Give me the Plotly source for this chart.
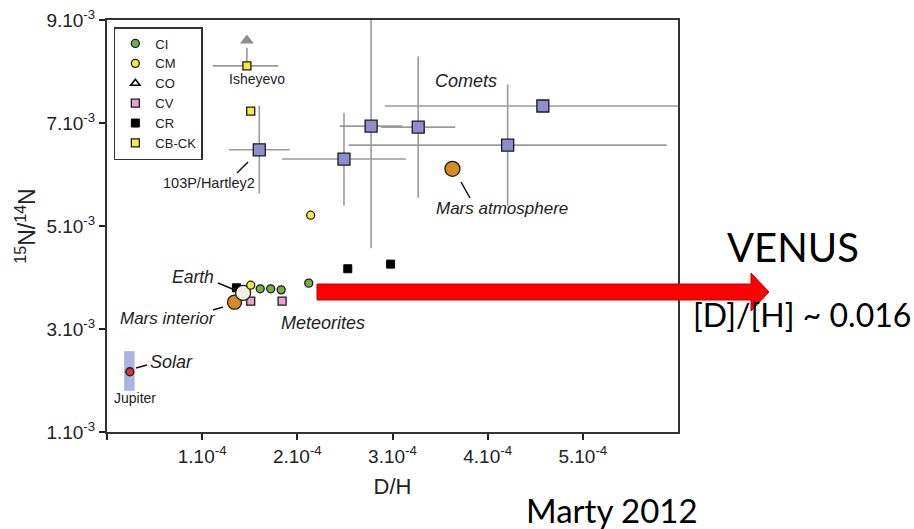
import plotly.graph_objects as go

# ---------------- data ----------------
ci_dh = [1.61e-4, 1.72e-4, 1.83e-4, 2.12e-4]
ci_n = [3.78e-3, 3.78e-3, 3.76e-3, 3.89e-3]

cm_dh = [1.51e-4, 2.14e-4]
cm_n = [3.85e-3, 5.21e-3]

co_dh = [1.41e-4]
co_n = [3.72e-3]

cv_dh = [1.51e-4, 1.84e-4]
cv_n = [3.54e-3, 3.54e-3]

cr_dh = [1.36e-4, 2.53e-4, 2.98e-4]
cr_n = [3.80e-3, 4.17e-3, 4.26e-3]

cbck_dh = [1.47e-4, 1.51e-4]
cbck_n = [8.11e-3, 7.23e-3]
cbck_dh_err_minus = [0.36e-4, 0.0]
cbck_dh_err_plus = [0.33e-4, 0.0]
cbck_n_err_plus = [0.35e-3, 0.0]
isheyevo_limit_n = 8.60e-3

comet_names = ["103P/Hartley2", "comet 2", "comet 3", "comet 4", "comet 5", "comet 6"]
comet_dh = [1.60e-4, 2.49e-4, 2.775e-4, 3.27e-4, 4.21e-4, 4.58e-4]
comet_n = [6.48e-3, 6.30e-3, 6.94e-3, 6.92e-3, 6.57e-3, 7.33e-3]
comet_dh_err = [0.32e-4, 0.65e-4, 0.33e-4, 0.39e-4, 1.67e-4, 1.66e-4]
comet_n_err = [0.85e-3, 0.90e-3, 2.37e-3, 1.37e-3, 1.18e-3, 0.0]

earth_dh, earth_n = [1.43e-4], [3.70e-3]
mars_int_dh, mars_int_n = [1.34e-4], [3.52e-3]
mars_atm_dh, mars_atm_n = [3.63e-4], [6.11e-3]
solar_dh, solar_n = [0.24e-4], [2.17e-3]
jupiter_dh = [0.18e-4, 0.29e-4]
jupiter_n = [1.80e-3, 2.57e-3]

x_tickvals = [0, 1e-4, 2e-4, 3e-4, 4e-4, 5e-4]
x_ticktext = ["", "1.10<sup>-4</sup>", "2.10<sup>-4</sup>", "3.10<sup>-4</sup>",
              "4.10<sup>-4</sup>", "5.10<sup>-4</sup>"]
y_tickvals = [1e-3, 3e-3, 5e-3, 7e-3, 9e-3]
y_ticktext = ["1.10<sup>-3</sup>", "3.10<sup>-3</sup>", "5.10<sup>-3</sup>",
              "7.10<sup>-3</sup>", "9.10<sup>-3</sup>"]

# ---------------- layout geometry ----------------
W, H = 914, 529
L, R, T, B = 107, 236, 20, 97
PW, PH = W - L - R, H - T - B
X0, X1 = 0.0, 6e-4
Y0, Y1 = 1e-3, 9e-3


def dx(px):
    return X0 + (px - L) / PW * (X1 - X0)


def dy(py):
    return Y1 - (py - T) / PH * (Y1 - Y0)


def pxp(px):
    return (px - L) / PW


def pyp(py):
    return (H - B - py) / PH


FONT = "Liberation Sans, Arial, sans-serif"
FONT2 = "Lato, Open Sans, sans-serif"
ERR = dict(color="#9a9a9a", thickness=1.6, width=0)
EDGE = dict(color="#1a1a1a", width=1.3)

fig = go.Figure()

# Jupiter range
fig.add_trace(go.Scatter(
    x=[jupiter_dh[0], jupiter_dh[1], jupiter_dh[1], jupiter_dh[0], jupiter_dh[0]],
    y=[jupiter_n[0], jupiter_n[0], jupiter_n[1], jupiter_n[1], jupiter_n[0]],
    fill="toself", fillcolor="#a9b3e4", line=dict(width=0), mode="lines",
    showlegend=False, hoverinfo="skip"))

# Comets
fig.add_trace(go.Scatter(
    x=comet_dh, y=comet_n, mode="markers", text=comet_names, showlegend=False,
    marker=dict(symbol="square", size=12, color="#8e8ecf", line=EDGE),
    error_x=dict(type="data", array=comet_dh_err, **ERR),
    error_y=dict(type="data", array=comet_n_err, **ERR)))

# CB-CK
fig.add_trace(go.Scatter(
    x=cbck_dh, y=cbck_n, mode="markers", name="CB-CK", legendrank=6,
    marker=dict(symbol="square", size=8, color="#f3ec3c", line=EDGE),
    error_x=dict(type="data", array=cbck_dh_err_plus, arrayminus=cbck_dh_err_minus, **ERR),
    error_y=dict(type="data", array=cbck_n_err_plus, arrayminus=[0, 0], **ERR)))
fig.add_trace(go.Scatter(
    x=[cbck_dh[0]], y=[isheyevo_limit_n], mode="markers", showlegend=False,
    marker=dict(symbol="triangle-up", size=12, color="#8c8c8c", line=dict(width=0))))

# Mars atmosphere
fig.add_trace(go.Scatter(
    x=mars_atm_dh, y=mars_atm_n, mode="markers", showlegend=False,
    marker=dict(size=15, color="#d98b1f", line=EDGE)))

# CR
fig.add_trace(go.Scatter(
    x=cr_dh, y=cr_n, mode="markers", name="CR", legendrank=5,
    marker=dict(symbol="square", size=8, color="#000000", line=dict(color="#000", width=1))))

# CV
fig.add_trace(go.Scatter(
    x=cv_dh, y=cv_n, mode="markers", name="CV", legendrank=4,
    marker=dict(symbol="square", size=8, color="#e9a3d2", line=EDGE)))

# Mars interior
fig.add_trace(go.Scatter(
    x=mars_int_dh, y=mars_int_n, mode="markers", showlegend=False,
    marker=dict(size=14, color="#d98b1f", line=EDGE)))

# CO
fig.add_trace(go.Scatter(
    x=co_dh, y=co_n, mode="markers", name="CO", legendrank=3,
    marker=dict(symbol="triangle-up", size=8, color="#ffffff", line=dict(color="#000", width=1.6))))

# Earth
fig.add_trace(go.Scatter(
    x=earth_dh, y=earth_n, mode="markers", showlegend=False,
    marker=dict(size=15, color="#f2f2e2", line=EDGE)))

# CI
fig.add_trace(go.Scatter(
    x=ci_dh, y=ci_n, mode="markers", name="CI", legendrank=1,
    marker=dict(size=8, color="#76b043", line=EDGE)))

# CM
fig.add_trace(go.Scatter(
    x=cm_dh, y=cm_n, mode="markers", name="CM", legendrank=2,
    marker=dict(size=8, color="#f3ec3c", line=EDGE)))

# Solar
fig.add_trace(go.Scatter(
    x=solar_dh, y=solar_n, mode="markers", showlegend=False,
    marker=dict(size=8, color="#d8362a", line=EDGE)))

# ---------------- annotations ----------------
ann = []


def label(text, px, py, size, italic=False, color="#222"):
    ann.append(dict(x=dx(px), y=dy(py), xref="x", yref="y", text=text, showarrow=False,
                    xanchor="center", yanchor="middle",
                    font=dict(family=FONT, size=size, color=color,
                              style="italic" if italic else "normal")))


label("Isheyevo", 257, 79, 14)
label("103P/Hartley2", 209, 183, 14.5)
label("Comets", 466, 81, 18, True)
label("Mars atmosphere", 502, 208, 17, True)
label("Earth", 193, 277, 17.5, True)
label("Mars interior", 168, 318, 17, True)
label("Meteorites", 323, 323, 18, True)
label("Solar", 171, 362, 18, True)
label("Jupiter", 135, 398, 14)


def big(text, px, py, size):
    ann.append(dict(x=pxp(px), y=pyp(py), xref="paper", yref="paper", text=text,
                    showarrow=False, xanchor="center", yanchor="middle",
                    font=dict(family=FONT2, size=size, color="#000")))


big("VENUS", 793, 247, 40)
big("[D]/[H] ~ 0.016", 802, 314, 32)
big("Marty 2012", 612, 510, 33)

shapes = []
for (x1, y1, x2, y2) in [(237, 173, 248, 162), (461, 182, 470, 198), (218, 283, 235, 290),
                         (213, 310, 223, 307), (136, 368, 147, 365)]:
    shapes.append(dict(type="line", xref="x", yref="y", x0=dx(x1), y0=dy(y1),
                       x1=dx(x2), y1=dy(y2), line=dict(color="#111", width=1.5)))

arrow_px = [(317, 284), (751, 284), (751, 273), (769, 292), (751, 311), (751, 300), (317, 300)]
path = "M " + " L ".join(f"{pxp(a):.5f},{pyp(b):.5f}" for a, b in arrow_px) + " Z"
shapes.append(dict(type="path", xref="paper", yref="paper", path=path,
                   fillcolor="#ff0000", line=dict(color="#c00000", width=1)))

fig.update_layout(
    width=W, height=H, margin=dict(l=L, r=R, t=T, b=B, autoexpand=False),
    paper_bgcolor="white", plot_bgcolor="white",
    font=dict(family=FONT, color="#222"),
    annotations=ann, shapes=shapes,
    legend=dict(x=0.012, y=0.983, xanchor="left", yanchor="top",
                bordercolor="#333", borderwidth=1.5, bgcolor="white",
                font=dict(size=13, family=FONT), itemwidth=30, tracegroupgap=0,
                traceorder="normal"),
)
fig.update_xaxes(range=[X0, X1], tickvals=x_tickvals, ticktext=x_ticktext,
                 automargin=False,
                 showgrid=False, zeroline=False, showline=True, linewidth=2,
                 linecolor="#333", mirror=True, ticks="outside", ticklen=6,
                 tickwidth=1.5, tickcolor="#222", tickfont=dict(size=19),
                 ticklabelstandoff=0,
                 title=dict(text="D/H", font=dict(size=22), standoff=13))
fig.update_yaxes(range=[Y0, Y1], tickvals=y_tickvals, ticktext=y_ticktext,
                 automargin=False,
                 showgrid=False, zeroline=False, showline=True, linewidth=2,
                 linecolor="#333", mirror=True, ticks="outside", ticklen=6,
                 tickwidth=1.5, tickcolor="#222", tickfont=dict(size=19),
                 title=dict(text="<sup>15</sup>N/<sup>14</sup>N", font=dict(size=23),
                            standoff=4))

fig.write_html("out.html", config={"displayModeBar": False},
               post_script="document.body.style.margin='0';document.body.style.overflow='hidden';")
